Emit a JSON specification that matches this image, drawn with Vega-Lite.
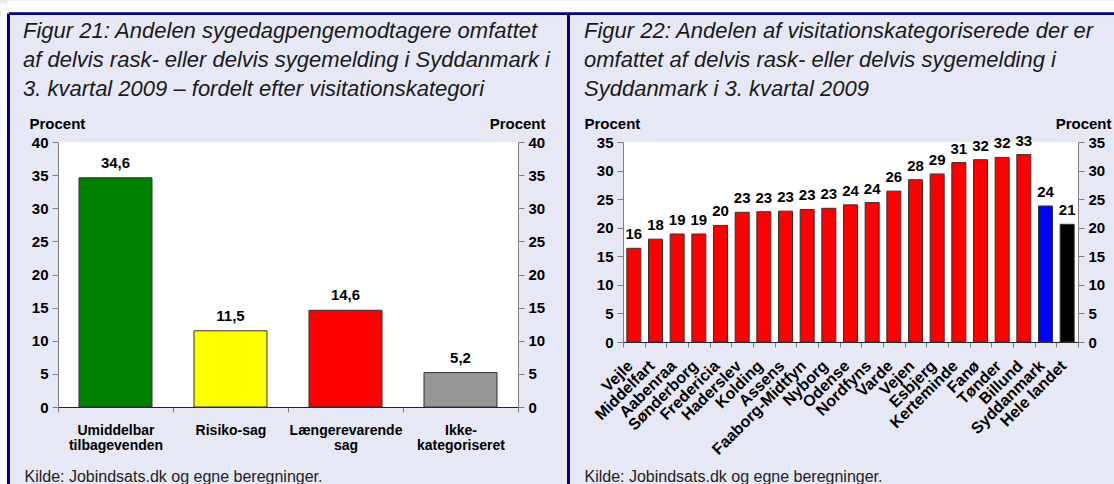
{
  "$schema": "https://vega.github.io/schema/vega-lite/v6.json",
  "background": "#E6E8F5",
  "padding": {"left": 0, "top": 0, "right": 0, "bottom": 0},
  "spacing": 105,
  "bounds": "flush",
  "resolve": {"scale": {"color": "independent"}},
  "config": {
    "locale": {"number": {"decimal": ",", "thousands": ".", "grouping": [3], "currency": ["", " kr."]}},
    "view": {"fill": "white", "stroke": null},
    "font": "Liberation Sans",
    "axis": {
      "grid": false,
      "labelFont": "Liberation Sans",
      "labelFontWeight": "bold",
      "labelColor": "black",
      "labelFontSize": 15,
      "domainColor": "#808080",
      "tickColor": "#808080",
      "tickSize": 6,
      "labelPadding": 4,
      "titleFont": "Liberation Sans",
      "titleFontWeight": "bold",
      "titleFontSize": 15,
      "titleColor": "black"
    }
  },
  "hconcat": [
    {
      "width": 460,
      "height": 265,
      "title": {
        "text": ["Figur 21: Andelen sygedagpengemodtagere omfattet", "af delvis rask- eller delvis sygemelding i Syddanmark i", "3. kvartal 2009 – fordelt efter visitationskategori"],
        "anchor": "start",
        "frame": "group",
        "dx": -35,
        "offset": -100.5,
        "font": "Liberation Sans",
        "fontSize": 22,
        "fontStyle": "italic",
        "fontWeight": "normal",
        "lineHeight": 29,
        "color": "#1a1a1a"
      },
      "data": {
        "values": [
          {"kategori": "Umiddelbar tilbagevenden", "pct": 34.6},
          {"kategori": "Risiko-sag", "pct": 11.5},
          {"kategori": "Længerevarende sag", "pct": 14.6},
          {"kategori": "Ikke-kategoriseret", "pct": 5.2}
        ]
      },
      "encoding": {
        "x": {
          "field": "kategori",
          "type": "nominal",
          "sort": null,
          "scale": {"paddingInner": 0, "paddingOuter": 0}
        }
      },
      "layer": [
        {
          "mark": {"type": "bar", "width": {"band": 0.635}, "stroke": "#333333", "strokeWidth": 1},
          "encoding": {
            "x": {
              "field": "kategori",
              "type": "nominal",
              "sort": null,
              "axis": {
                "tickBand": "extent",
                "labelAngle": 0,
                "labelFontSize": 14,
                "labelLineHeight": 15,
                "labelBaseline": "top",
                "labelPadding": 11,
                "tickSize": 5,
                "domainColor": "#222222",
                "labelExpr": "isValid(datum.value) ? (datum.value == 'Ikke-kategoriseret' ? ['Ikke-', 'kategoriseret'] : split(datum.value, ' ')) : ''",
                "title": "Kilde: Jobindsats.dk og egne beregninger.",
                "titleX": -34,
                "titleY": 74,
                "titleAlign": "left",
                "titleAnchor": "start",
                "titleBaseline": "alphabetic",
                "titleFont": "Liberation Sans",
                "titleFontSize": 16,
                "titleFontWeight": "normal",
                "titleColor": "#222222"
              }
            },
            "y": {
              "field": "pct",
              "type": "quantitative",
              "scale": {"domain": [0, 40], "nice": false},
              "axis": {"orient": "left", "values": [0, 5, 10, 15, 20, 25, 30, 35, 40], "title": "Procent", "titleAngle": 0, "titleAlign": "left", "titleBaseline": "alphabetic", "titleX": -29, "titleY": -14}
            },
            "color": {
              "field": "kategori",
              "type": "nominal",
              "legend": null,
              "scale": {"domain": ["Umiddelbar tilbagevenden", "Risiko-sag", "Længerevarende sag", "Ikke-kategoriseret"], "range": ["#008000", "#FFFF00", "#FF0000", "#969696"]}
            }
          }
        },
        {
          "mark": {"type": "text", "baseline": "alphabetic", "dy": -10, "fontSize": 15, "fontWeight": "bold", "color": "black"},
          "encoding": {
            "x": {
              "field": "kategori",
              "type": "nominal",
              "sort": null,
              "axis": {
                "orient": "bottom",
                "offset": -394,
                "values": ["Umiddelbar tilbagevenden"],
                "bandPosition": -0.4304,
                "domain": false,
                "labels": false,
                "title": null,
                "ticks": true,
                "tickSize": 481,
                "tickWidth": 3,
                "tickColor": "#000080"
              }
            },
            "y": {
              "field": "pct",
              "type": "quantitative",
              "axis": {"orient": "right", "values": [0, 5, 10, 15, 20, 25, 30, 35, 40], "title": "Procent", "titleAngle": 0, "titleAlign": "right", "titleBaseline": "alphabetic", "titleX": 27, "titleY": -14}
            },
            "text": {"field": "pct", "type": "quantitative", "format": ".1f"}
          }
        },
        {
          "mark": {"type": "point", "opacity": 0},
          "encoding": {
            "x": {"field": "kategori", "type": "nominal", "sort": null, "axis": null},
            "y": {
              "field": "pct",
              "type": "quantitative",
              "axis": {
                "orient": "left",
                "offset": -1057,
                "values": [40],
                "tickOffset": -129,
                "domain": false,
                "labels": false,
                "title": null,
                "ticks": true,
                "tickSize": 1106.5,
                "tickWidth": 3,
                "tickColor": "#000080"
              }
            }
          }
        },
        {
          "mark": {"type": "point", "opacity": 0},
          "encoding": {
            "x": {
              "field": "kategori",
              "type": "nominal",
              "sort": null,
              "axis": {
                "orient": "bottom",
                "offset": -404,
                "values": ["Umiddelbar tilbagevenden"],
                "bandPosition": -0.46957,
                "domain": false,
                "labels": false,
                "title": null,
                "ticks": true,
                "tickSize": 490,
                "tickWidth": 6,
                "tickColor": "white"
              }
            },
            "y": {
              "field": "pct",
              "type": "quantitative",
              "axis": {
                "orient": "left",
                "offset": -1057,
                "values": [40],
                "tickOffset": -136.25,
                "domain": false,
                "labels": false,
                "title": null,
                "ticks": true,
                "tickSize": 1108.25,
                "tickWidth": 11.5,
                "tickColor": "white"
              }
            }
          }
        }
      ],
      "resolve": {"axis": {"x": "independent", "y": "independent"}}
    },
    {
      "width": 455,
      "height": 200,
      "title": {
        "text": ["Figur 22: Andelen af visitationskategoriserede der er", "omfattet af delvis rask- eller delvis sygemelding i", "Syddanmark i 3. kvartal 2009"],
        "anchor": "start",
        "frame": "group",
        "dx": -39,
        "offset": -89,
        "font": "Liberation Sans",
        "fontSize": 22,
        "fontStyle": "italic",
        "fontWeight": "normal",
        "lineHeight": 29,
        "color": "#1a1a1a"
      },
      "data": {
        "values": [
          {"kommune": "Vejle", "pct": 16.4, "niveau": "Kommune"},
          {"kommune": "Middelfart", "pct": 18.0, "niveau": "Kommune"},
          {"kommune": "Aabenraa", "pct": 18.9, "niveau": "Kommune"},
          {"kommune": "Sønderborg", "pct": 18.9, "niveau": "Kommune"},
          {"kommune": "Fredericia", "pct": 20.4, "niveau": "Kommune"},
          {"kommune": "Haderslev", "pct": 22.7, "niveau": "Kommune"},
          {"kommune": "Kolding", "pct": 22.8, "niveau": "Kommune"},
          {"kommune": "Assens", "pct": 22.9, "niveau": "Kommune"},
          {"kommune": "Faaborg-Midtfyn", "pct": 23.2, "niveau": "Kommune"},
          {"kommune": "Nyborg", "pct": 23.4, "niveau": "Kommune"},
          {"kommune": "Odense", "pct": 24.0, "niveau": "Kommune"},
          {"kommune": "Nordfyns", "pct": 24.4, "niveau": "Kommune"},
          {"kommune": "Varde", "pct": 26.4, "niveau": "Kommune"},
          {"kommune": "Vejen", "pct": 28.4, "niveau": "Kommune"},
          {"kommune": "Esbjerg", "pct": 29.4, "niveau": "Kommune"},
          {"kommune": "Kerteminde", "pct": 31.4, "niveau": "Kommune"},
          {"kommune": "Fanø", "pct": 31.9, "niveau": "Kommune"},
          {"kommune": "Tønder", "pct": 32.3, "niveau": "Kommune"},
          {"kommune": "Billund", "pct": 32.8, "niveau": "Kommune"},
          {"kommune": "Syddanmark", "pct": 23.8, "niveau": "Region"},
          {"kommune": "Hele landet", "pct": 20.6, "niveau": "Land"}
        ]
      },
      "encoding": {
        "x": {
          "field": "kommune",
          "type": "nominal",
          "sort": null,
          "scale": {"paddingInner": 0, "paddingOuter": 0}
        }
      },
      "layer": [
        {
          "mark": {"type": "bar", "width": {"band": 0.646}, "stroke": "#333333", "strokeWidth": 1},
          "encoding": {
            "x": {
              "field": "kommune",
              "type": "nominal",
              "sort": null,
              "axis": {
                "tickBand": "extent",
                "labelAngle": -45,
                "labelAlign": "right",
                "labelBaseline": "middle",
                "labelFontSize": 16,
                "labelPadding": 16,
                "labelOffset": -4,
                "tickSize": 5,
                "domainColor": "#222222",
                "title": "Kilde: Jobindsats.dk og egne beregninger.",
                "titleX": -39,
                "titleY": 139,
                "titleAlign": "left",
                "titleAnchor": "start",
                "titleBaseline": "alphabetic",
                "titleFont": "Liberation Sans",
                "titleFontSize": 16,
                "titleFontWeight": "normal",
                "titleColor": "#222222"
              }
            },
            "y": {
              "field": "pct",
              "type": "quantitative",
              "scale": {"domain": [0, 35], "nice": false},
              "axis": {"orient": "left", "values": [0, 5, 10, 15, 20, 25, 30, 35], "title": "Procent", "titleAngle": 0, "titleAlign": "left", "titleBaseline": "alphabetic", "titleX": -39, "titleY": -14}
            },
            "color": {
              "field": "niveau",
              "type": "nominal",
              "legend": null,
              "scale": {"domain": ["Kommune", "Region", "Land"], "range": ["#FF0000", "#0000FF", "#000000"]}
            }
          }
        },
        {
          "mark": {"type": "text", "baseline": "alphabetic", "dy": -9, "fontSize": 15, "fontWeight": "bold", "color": "black"},
          "encoding": {
            "x": {
              "field": "kommune",
              "type": "nominal",
              "sort": null,
              "axis": {
                "orient": "bottom",
                "offset": -329,
                "values": ["Vejle"],
                "bandPosition": -2.5154,
                "domain": false,
                "labels": false,
                "title": null,
                "ticks": true,
                "tickSize": 481,
                "tickWidth": 3,
                "tickColor": "#000080"
              }
            },
            "y": {
              "field": "pct",
              "type": "quantitative",
              "axis": {"orient": "right", "values": [0, 5, 10, 15, 20, 25, 30, 35], "title": "Procent", "titleAngle": 0, "titleAlign": "right", "titleBaseline": "alphabetic", "titleX": 33, "titleY": -14}
            },
            "text": {"field": "pct", "type": "quantitative", "format": ".0f"}
          }
        }
      ],
      "resolve": {"axis": {"x": "independent", "y": "independent"}}
    }
  ]
}
